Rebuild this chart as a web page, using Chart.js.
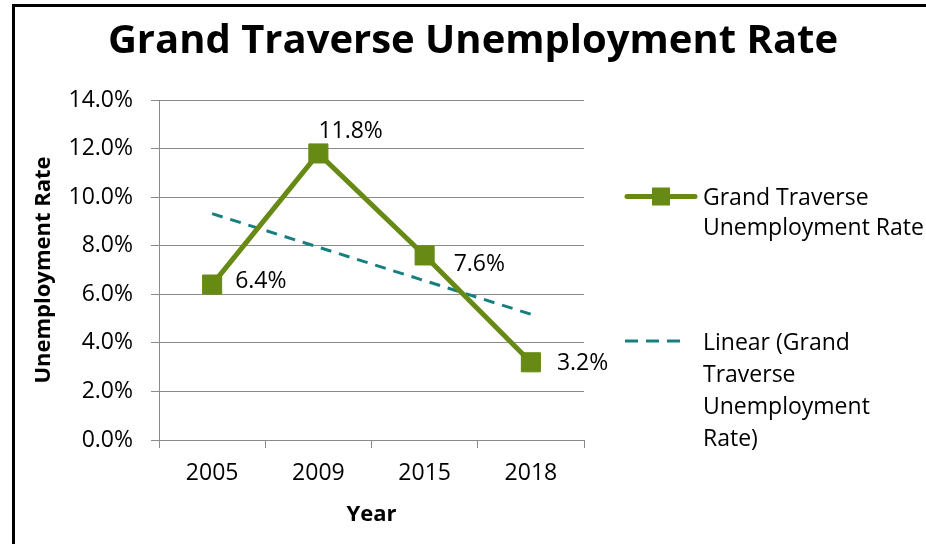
<!DOCTYPE html>
<html>
<head>
<meta charset="utf-8">
<script src="https://cdn.jsdelivr.net/npm/chart.js@4/dist/chart.umd.min.js"></script>
<style>
  html, body { margin: 0; padding: 0; background: #fff; }
  #wrap { position: relative; width: 926px; height: 544px; overflow: hidden; }
  #frame { position: absolute; left: 12px; top: 4px; width: 930px; height: 560px;
           border-left: 3px solid #000; border-top: 3px solid #000; box-sizing: border-box; }
  canvas { position: absolute; left: 0; top: 0; }
</style>
</head>
<body>
<div id="wrap">
  <div id="frame"></div>
  <canvas id="c" width="926" height="544"></canvas>
</div>
<script>
// ---- data ----
const chartTitle = "Grand Traverse Unemployment Rate";
const years = ["2005", "2009", "2015", "2018"];
const seriesName = "Grand Traverse Unemployment Rate";
const unemploymentRate = [6.4, 11.8, 7.6, 3.2];
const trendName = "Linear (Grand Traverse Unemployment Rate)";
const trendValues = [9.32, 7.94, 6.56, 5.18];
const yTicks = [0, 2, 4, 6, 8, 10, 12, 14];
const xTitle = "Year";
const yTitle = "Unemployment Rate";

// ---- style ----
const GREEN = "#678a14";
const TEAL = "#167f80";
const GRID = "#8a8a8a";
const FONT = "'Open Sans', sans-serif";
const labelOffsets = [[23, 3], [0, -15], [29, 16], [26, 8]];
const legendItems = [
  { lines: ["Grand Traverse", "Unemployment Rate"], y: 196.5, baseline0: 205, pitch: 29.5, type: "marker" },
  { lines: ["Linear (Grand", "Traverse", "Unemployment", "Rate)"], y: 341, baseline0: 350, pitch: 32, type: "dash" }
];

const extrasPlugin = {
  id: "extras",
  afterDraw(chart) {
    const ctx = chart.ctx;
    ctx.save();
    // title
    ctx.fillStyle = "#000";
    ctx.font = "bold 40px " + FONT;
    ctx.textAlign = "center";
    ctx.textBaseline = "alphabetic";
    ctx.fillText(chartTitle, 473, 53);

    // data labels
    const meta = chart.getDatasetMeta(0);
    ctx.font = "23px " + FONT;
    ctx.textAlign = "left";
    meta.data.forEach((pt, i) => {
      const v = unemploymentRate[i];
      const [dx, dy] = labelOffsets[i];
      ctx.fillText(v.toFixed(1) + "%", pt.x + dx, pt.y + dy);
    });

    // legend
    const names = [seriesName, trendName];
    legendItems.forEach((it, k) => {
      if (it.type === "marker") {
        ctx.strokeStyle = GREEN;
        ctx.lineWidth = 5;
        ctx.lineCap = "round";
        ctx.beginPath();
        ctx.moveTo(627, it.y);
        ctx.lineTo(695, it.y);
        ctx.stroke();
        ctx.fillStyle = GREEN;
        ctx.fillRect(652, it.y - 9, 18, 18);
      } else {
        ctx.strokeStyle = TEAL;
        ctx.lineWidth = 3;
        ctx.lineCap = "butt";
        ctx.setLineDash([13, 8]);
        ctx.beginPath();
        ctx.moveTo(625, it.y);
        ctx.lineTo(684, it.y);
        ctx.stroke();
        ctx.setLineDash([]);
      }
      ctx.fillStyle = "#000";
      ctx.font = "23px " + FONT;
      ctx.textAlign = "left";
      it.lines.forEach((ln, j) => {
        ctx.fillText(ln, 703, it.baseline0 + j * it.pitch);
      });
    });
    ctx.restore();
  }
};

new Chart(document.getElementById("c"), {
  type: "line",
  data: {
    labels: years,
    datasets: [
      {
        label: seriesName,
        data: unemploymentRate,
        borderColor: GREEN,
        backgroundColor: GREEN,
        borderWidth: 5,
        pointStyle: "rect",
        pointRadius: 13.5,
        pointBorderWidth: 1,
        pointBackgroundColor: GREEN,
        pointBorderColor: GREEN,
        tension: 0,
        order: 1
      },
      {
        label: trendName,
        data: trendValues,
        borderColor: TEAL,
        borderWidth: 3,
        borderDash: [11, 8],
        pointRadius: 0,
        tension: 0,
        order: 2
      }
    ]
  },
  options: {
    responsive: false,
    devicePixelRatio: 1,
    animation: false,
    layout: { padding: { left: 15, top: 100, right: 342, bottom: 0 } },
    plugins: {
      legend: { display: false },
      title: { display: false },
      tooltip: { enabled: false }
    },
    scales: {
      x: {
        type: "category",
        offset: true,
        afterFit: (s) => { s.height = 104; },
        grid: { display: true, offset: true, drawOnChartArea: false, drawTicks: true, tickLength: 8, color: GRID, lineWidth: 1 },
        border: { display: true, color: GRID, width: 1 },
        ticks: { color: "#000", font: { family: FONT, size: 23 }, padding: 12, maxRotation: 0 },
        title: { display: true, text: xTitle, color: "#000", font: { family: FONT, size: 22, weight: "bold" }, padding: { top: 0, bottom: 16 } }
      },
      y: {
        min: 0,
        max: 14,
        afterFit: (s) => { s.width = 144; },
        afterBuildTicks: (s) => { s.ticks = yTicks.map(v => ({ value: v })); },
        grid: { display: true, drawOnChartArea: true, drawTicks: true, tickLength: 8, color: GRID, lineWidth: 1 },
        border: { display: true, color: GRID, width: 1 },
        ticks: { color: "#000", font: { family: FONT, size: 23 }, padding: 18, callback: (v) => Number(v).toFixed(1) + "%" },
        title: { display: true, text: yTitle, color: "#000", font: { family: FONT, size: 22, weight: "bold" }, padding: { top: 16, bottom: 0 } }
      }
    }
  },
  plugins: [extrasPlugin]
});
</script>
</body>
</html>
